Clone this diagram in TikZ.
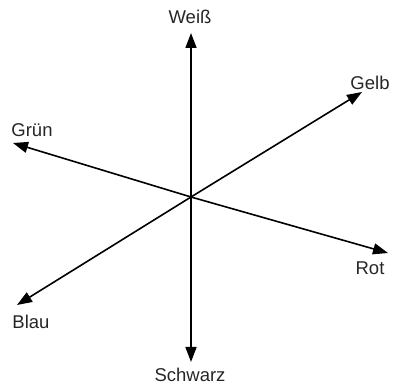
\documentclass[tikz,border=0pt]{standalone}
\usepackage{fontspec}
\setmainfont{Liberation Sans}
\usetikzlibrary{arrows.meta}
\begin{document}
\begin{tikzpicture}[x=1pt,y=1pt,
  axis/.style={line width=1.6pt,-{Triangle[length=15pt,width=11pt]}},
  lbl/.style={inner sep=0pt,text=black!85,font=\fontsize{18.5}{18.5}\selectfont}]
\useasboundingbox (0,0) rectangle (393,385);
\coordinate (o) at (191,188);
\coordinate (w) at (191,352);
\coordinate (s) at (191,23);
\coordinate (g) at (362,293);
\coordinate (gr) at (13,242);
\coordinate (r) at (388,132);
\coordinate (b) at (17,80);
\node[lbl] (lw) at (190,368) {Weiß};
\node[lbl] (ls) at (190,10.5) {Schwarz};
\node[lbl] (lg) at (370,302) {Gelb};
\node[lbl] (lgr) at (32,255) {Grün};
\node[lbl] (lr) at (370,117) {Rot};
\node[lbl] (lb) at (31,63) {Blau};
\draw[axis] (o) -- (w);
\draw[axis] (o) -- (s);
\draw[axis] (o) -- (g);
\draw[axis] (o) -- (gr);
\draw[axis] (o) -- (r);
\draw[axis] (o) -- (b);
\end{tikzpicture}
\end{document}
